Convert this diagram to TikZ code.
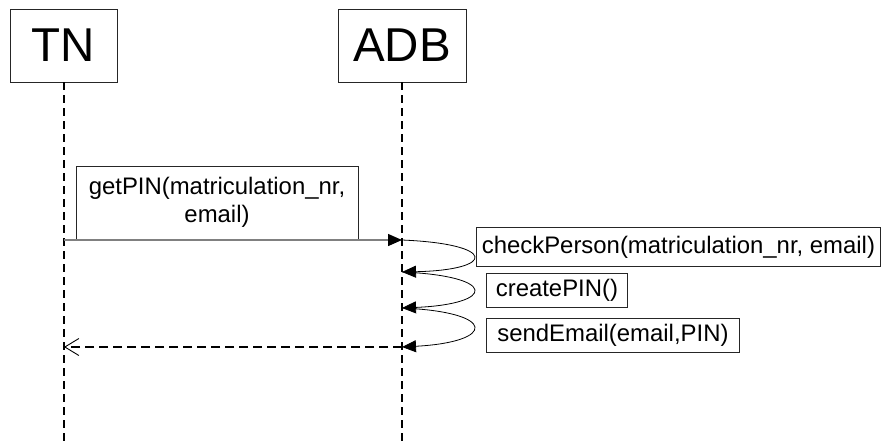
\documentclass[tikz,border=0pt]{standalone}
\usepackage{fontspec}
\setmainfont{Liberation Sans}
\usetikzlibrary{arrows.meta}

\tikzset{
  actor/.style={draw=black!85, line width=0.9pt, fill=white, inner sep=0pt,
    font=\fontsize{47.5}{50}\selectfont},
  lifeline/.style={line width=1.8pt, dash pattern=on 8pt off 5pt},
  msgbox/.style={draw=black!85, line width=0.9pt, fill=white, inner sep=0pt,
    align=center, font=\fontsize{23.9}{28.5}\selectfont},
  callmsg/.style={draw=black!50, line width=1.4pt,
    -{Triangle[length=14pt,width=12pt,black]}},
  selfmsg/.style={line width=0.8pt, -{Triangle[length=14pt,width=12pt]}},
  replymsg/.style={line width=1.8pt, dash pattern=on 9pt off 5pt,
    -{Straight Barb[length=14pt,width=17pt,line width=0.9pt]}},
}

\begin{document}
\begin{tikzpicture}[x=1pt,y=-1pt]
  \useasboundingbox (0,0) rectangle (881,445);

  % participants
  \node[actor, minimum width=107, minimum height=73] (tn) at (63.5,45.5) {TN};
  \node[actor, minimum width=128, minimum height=73] (adb) at (402,45.5) {ADB};

  % lifeline ends
  \coordinate (tnend) at (64,445);
  \coordinate (adbend) at (402,445);
  \draw[lifeline] (tn.south -| tnend) -- (tnend);
  \draw[lifeline] (adb.south -| adbend) -- (adbend);

  % message points on the lifelines
  \coordinate (t1) at (64,240);
  \coordinate (a1) at (402,240);
  \coordinate (a2) at (402,272);
  \coordinate (a3) at (402,308);
  \coordinate (a4) at (402,347);
  \coordinate (t4) at (64,347);

  % getPIN call
  \node[msgbox, minimum width=282, minimum height=73] (getpin) at (217,202.5)
    {getPIN(matriculation\_nr,\\email)};
  \draw[callmsg] (t1) -- (a1);

  % self calls on ADB
  \draw[selfmsg] (a1) .. controls (498,244) and (496,270) .. (a2);
  \draw[selfmsg] (a2) .. controls (498,276) and (496,304) .. (a3);
  \draw[selfmsg] (a3) .. controls (498,312) and (496,342) .. (a4);

  \node[msgbox, minimum width=404, minimum height=39, anchor=north west]
    (check) at (476,227) {checkPerson(matriculation\_nr, email)};
  \node[msgbox, minimum width=141, minimum height=34, anchor=north west]
    (create) at (486,273) {createPIN()};
  \node[msgbox, minimum width=253, minimum height=34, anchor=north west]
    (send) at (486,318) {sendEmail(email,PIN)};

  % reply
  \draw[replymsg] (a4) -- (t4);
\end{tikzpicture}
\end{document}
